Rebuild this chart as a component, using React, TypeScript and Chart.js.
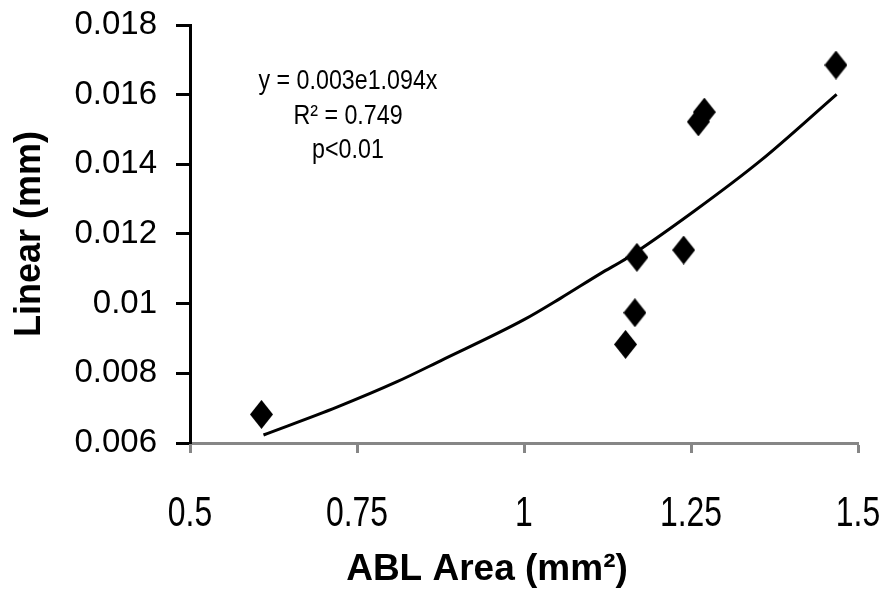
import React, { useEffect, useRef } from "react";
import { Chart, registerables } from "chart.js";

Chart.register(...registerables);

// ---- data ----
const ABL_AREA = [0.607, 1.152, 1.166, 1.169, 1.239, 1.261, 1.27, 1.467];
const LINEAR = [0.00682, 0.00883, 0.00974, 0.01133, 0.01154, 0.01522, 0.0155, 0.01685];

// exponential trend line
const TREND_X = [0.61, 0.72, 0.81, 0.875, 1.0, 1.055, 1.115, 1.155, 1.255, 1.355, 1.468];
const TREND_Y = [0.00623, 0.00703, 0.00776, 0.00836, 0.00954, 0.01016, 0.01087, 0.01132, 0.01266, 0.01412, 0.01601];

const X_TICKS = [0.5, 0.75, 1, 1.25, 1.5];
const X_TICK_LABELS = ["0.5", "0.75", "1", "1.25", "1.5"];
const Y_TICKS = [0.006, 0.008, 0.01, 0.012, 0.014, 0.016, 0.018];
const Y_TICK_LABELS = ["0.006", "0.008", "0.01", "0.012", "0.014", "0.016", "0.018"];

const EQUATION_LINES = ["y = 0.003e1.094x", "R\u00B2 = 0.749", "p<0.01"];
const X_TITLE = "ABL Area (mm\u00B2)";
const Y_TITLE = "Linear (mm)";

// ---- placement / style ----
const EQ_X = 0.7365;
const EQ_Y = [0.01639, 0.01539, 0.01441];
const X_TITLE_AT = 0.9446;

const SANS = "'Liberation Sans', Arial, Helvetica, sans-serif";

function makeDiamond(): HTMLCanvasElement {
  const c = document.createElement("canvas");
  const w = 23;
  const h = 29;
  c.width = w;
  c.height = h;
  const g = c.getContext("2d")!;
  g.fillStyle = "#000";
  g.beginPath();
  g.moveTo(w / 2, 0);
  g.lineTo(w, h / 2);
  g.lineTo(w / 2, h);
  g.lineTo(0, h / 2);
  g.closePath();
  g.fill();
  return c;
}

// draws condensed text (horizontally squeezed) centred at (cx, cy)
function narrowText(ctx: CanvasRenderingContext2D, text: string, cx: number, cy: number, sx: number) {
  ctx.save();
  ctx.translate(cx, cy);
  ctx.scale(sx, 1);
  ctx.fillText(text, 0, 0);
  ctx.restore();
}

const textPlugin = {
  id: "textOverlay",
  afterDraw(chart: any) {
    const { ctx } = chart;
    const x = chart.scales.x;
    const y = chart.scales.y;
    ctx.save();
    ctx.fillStyle = "#000";
    ctx.textAlign = "center";
    ctx.textBaseline = "middle";

    // x tick labels (condensed face)
    ctx.font = `42px ${SANS}`;
    X_TICKS.forEach((v, i) => {
      narrowText(ctx, X_TICK_LABELS[i], x.getPixelForValue(v), x.top + 71, 0.76);
    });

    // regression annotation
    ctx.font = `28px ${SANS}`;
    EQUATION_LINES.forEach((t, i) => {
      narrowText(ctx, t, x.getPixelForValue(EQ_X), y.getPixelForValue(EQ_Y[i]), 0.83);
    });

    // x axis title
    ctx.font = `bold 37px ${SANS}`;
    ctx.fillText(X_TITLE, x.getPixelForValue(X_TITLE_AT), chart.height - 25);
    ctx.restore();
  },
};

export default function App() {
  const ref = useRef<HTMLCanvasElement | null>(null);

  useEffect(() => {
    document.body.style.margin = "0";
    const canvas = ref.current!;
    const diamond = makeDiamond();
    const chart = new Chart(canvas, {
      type: "scatter",
      data: {
        datasets: [
          {
            label: "Linear",
            data: ABL_AREA.map((v, i) => ({ x: v, y: LINEAR[i] })),
            pointStyle: diamond as any,
            pointRadius: 12,
            backgroundColor: "#000",
            borderColor: "#000",
            order: 1,
          },
          {
            label: "Trend",
            type: "line",
            data: TREND_X.map((v, i) => ({ x: v, y: TREND_Y[i] })),
            borderColor: "#000",
            borderWidth: 3,
            pointRadius: 0,
            fill: false,
            cubicInterpolationMode: "monotone",
            order: 2,
          } as any,
        ],
      },
      options: {
        responsive: false,
        animation: false,
        devicePixelRatio: 1,
        layout: { padding: { top: 25, right: 34, left: 0, bottom: 0 } },
        plugins: {
          legend: { display: false },
          tooltip: { enabled: false },
        },
        scales: {
          x: {
            type: "linear",
            min: 0.5,
            max: 1.5,
            afterBuildTicks: (s: any) => {
              s.ticks = X_TICKS.map((v) => ({ value: v }));
            },
            afterFit: (s: any) => {
              s.height = 152;
              s.paddingLeft = 0;
              s.paddingRight = 0;
              s.paddingTop = 0;
              s.paddingBottom = 0;
            },
            ticks: {
              display: false,
              callback: (v: any) => X_TICK_LABELS[X_TICKS.indexOf(Number(v))] ?? "",
            },
            grid: {
              drawOnChartArea: false,
              drawTicks: true,
              tickLength: 10,
              tickWidth: 3,
              tickColor: "#868686",
            },
            border: { display: true, color: "#868686", width: 3 },
          },
          y: {
            type: "linear",
            min: 0.006,
            max: 0.018,
            afterBuildTicks: (s: any) => {
              s.ticks = Y_TICKS.map((v) => ({ value: v }));
            },
            afterFit: (s: any) => {
              s.width = 190;
              s.paddingLeft = 0;
              s.paddingRight = 0;
              s.paddingTop = 0;
              s.paddingBottom = 0;
            },
            ticks: {
              padding: 19,
              color: "#000",
              font: { family: SANS, size: 33 },
              callback: (_v: any, i: number) => Y_TICK_LABELS[i],
            },
            grid: {
              drawOnChartArea: false,
              drawTicks: true,
              tickLength: 14,
              tickWidth: 3,
              tickColor: "#000",
            },
            border: { display: true, color: "#000", width: 3 },
            title: {
              display: true,
              text: Y_TITLE,
              color: "#000",
              font: { family: SANS, size: 36, weight: "bold" },
              padding: { top: 8, bottom: 0 },
            },
          },
        },
      },
      plugins: [textPlugin],
    });
    return () => chart.destroy();
  }, []);

  return (
    <div style={{ width: 892, height: 595, background: "#fff" }}>
      <canvas ref={ref} width={892} height={595} style={{ display: "block" }} />
    </div>
  );
}
